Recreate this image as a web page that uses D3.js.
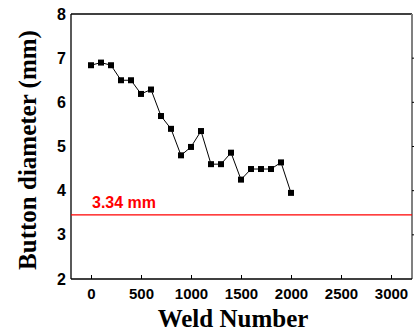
<!DOCTYPE html>
<html>
<head>
<meta charset="utf-8">
<script src="https://cdn.jsdelivr.net/npm/d3@7"></script>
<style>
  body { margin: 0; background: #fff; }
</style>
</head>
<body>
<script>
// weld number vs button diameter
var welds = [0, 100, 200, 300, 400, 500, 600, 700, 800, 900, 1000,
             1100, 1200, 1300, 1400, 1500, 1600, 1700, 1800, 1900, 2000];
var diam = [6.84, 6.90, 6.84, 6.50, 6.50, 6.19, 6.29, 5.69, 5.40, 4.80, 4.99,
            5.35, 4.60, 4.60, 4.86, 4.25, 4.49, 4.49, 4.49, 4.64, 3.95];
var limitValue = 3.45;
var limitLabel = "3.34 mm";
var xTicks = [0, 500, 1000, 1500, 2000, 2500, 3000];
var yTicks = [2, 3, 4, 5, 6, 7, 8];

var W = 415, H = 334;
// note: "top" is taken by window.top, so use plot* names
var plotL = 71, plotR = 412, plotT = 14, plotB = 279;

var svg = d3.select("body").append("svg")
  .attr("width", W)
  .attr("height", H);

var x = d3.scaleLinear().domain([-200, 3210]).range([plotL, plotR]);
var y = d3.scaleLinear().domain([2, 8]).range([plotB, plotT]);

// frame: top + left black, right grey
svg.append("line").attr("x1", plotL).attr("x2", plotR).attr("y1", plotT).attr("y2", plotT)
  .attr("stroke", "#000").attr("stroke-width", 1.3);
svg.append("line").attr("x1", plotR).attr("x2", plotR).attr("y1", plotT).attr("y2", plotB)
  .attr("stroke", "#808080").attr("stroke-width", 2);

// bottom axis, ticks inward
var xAxis = d3.axisBottom(x).tickValues(xTicks).tickSize(-4).tickPadding(9).tickFormat(d3.format("d"));
var gx = svg.append("g").attr("transform", "translate(0," + plotB + ")").call(xAxis);
gx.select(".domain").attr("d", "M" + plotL + ",0H" + plotR).attr("stroke-width", 1.3);
gx.selectAll("text")
  .attr("font-family", "Liberation Sans, Arial, sans-serif")
  .attr("font-weight", "bold").attr("font-size", 15).attr("fill", "#000");

// left axis, no ticks
var yAxis = d3.axisLeft(y).tickValues(yTicks).tickSize(0).tickPadding(5).tickFormat(d3.format("d"));
var gy = svg.append("g").attr("transform", "translate(" + plotL + ",0)").call(yAxis);
gy.select(".domain").attr("d", "M0," + plotT + "V" + plotB).attr("stroke-width", 1.3);
gy.selectAll("text")
  .attr("font-family", "Liberation Sans, Arial, sans-serif")
  .attr("font-weight", "bold").attr("font-size", 16).attr("fill", "#000");

// small outward ticks on right side
svg.selectAll(".rtick").data(yTicks.slice(1, -1)).enter().append("line")
  .attr("x1", plotR).attr("x2", plotR + 2)
  .attr("y1", function(d){ return y(d); }).attr("y2", function(d){ return y(d); })
  .attr("stroke", "#000").attr("stroke-width", 1);

// axis titles
svg.append("text")
  .attr("x", 233).attr("y", 327)
  .attr("text-anchor", "middle")
  .attr("font-family", "Liberation Serif, Times New Roman, serif")
  .attr("font-weight", "bold").attr("font-size", 25)
  .text("Weld Number");

svg.append("text")
  .attr("transform", "translate(36,150) rotate(-90)")
  .attr("text-anchor", "middle")
  .attr("font-family", "Liberation Serif, Times New Roman, serif")
  .attr("font-weight", "bold").attr("font-size", 25)
  .text("Button diameter (mm)");

// red limit line
svg.append("line")
  .attr("x1", plotL).attr("x2", plotR)
  .attr("y1", y(limitValue)).attr("y2", y(limitValue))
  .attr("stroke", "#ff0000").attr("stroke-width", 1.2);
svg.append("text")
  .attr("x", x(0) + 1).attr("y", y(limitValue) - 7)
  .attr("font-family", "Liberation Sans, Arial, sans-serif")
  .attr("font-weight", "bold").attr("font-size", 16)
  .attr("fill", "#ff0000")
  .text(limitLabel);

// data line + square markers
var pts = welds.map(function(w, i){ return [w, diam[i]]; });
var line = d3.line().x(function(d){ return x(d[0]); }).y(function(d){ return y(d[1]); });
svg.append("path").datum(pts)
  .attr("d", line).attr("fill", "none")
  .attr("stroke", "#000").attr("stroke-width", 1);
svg.selectAll(".pt").data(pts).enter().append("rect")
  .attr("x", function(d){ return x(d[0]) - 3; })
  .attr("y", function(d){ return y(d[1]) - 3; })
  .attr("width", 6).attr("height", 6)
  .attr("fill", "#000");
</script>
</body>
</html>
